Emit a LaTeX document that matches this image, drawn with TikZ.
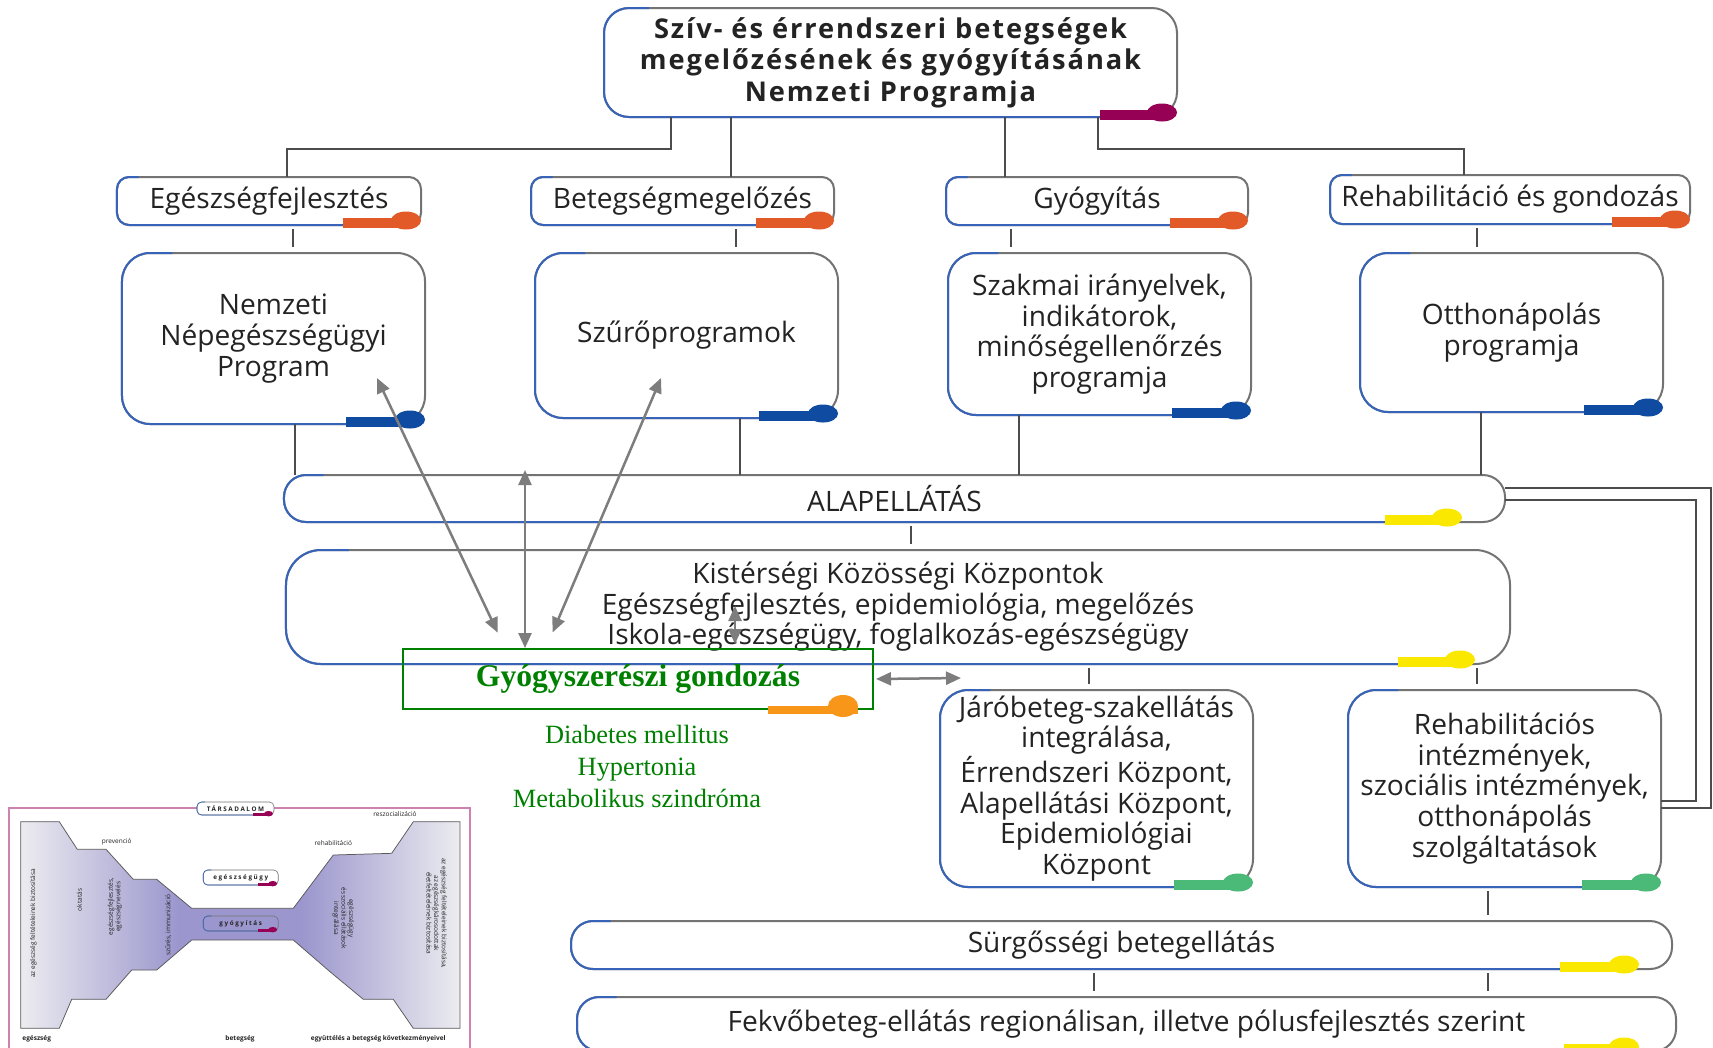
\documentclass[tikz,border=0pt]{standalone}
\usepackage{fontspec}
\setmainfont{Open Sans}
\newfontfamily\titlefont{Open Sans}
\newfontfamily\greenfont{Liberation Serif}
\usetikzlibrary{arrows.meta}

\definecolor{edgegray}{RGB}{115,115,115}
\definecolor{edgeblue}{RGB}{55,100,185}
\definecolor{textgray}{RGB}{35,35,35}
\definecolor{accorange}{RGB}{225,90,40}
\definecolor{accblue}{RGB}{15,75,160}
\definecolor{accmagenta}{RGB}{150,0,85}
\definecolor{accyellow}{RGB}{250,232,0}
\definecolor{accgreen}{RGB}{75,185,120}
\definecolor{gyorange}{RGB}{247,150,25}
\definecolor{gygreen}{RGB}{0,128,0}
\definecolor{arrowgray}{RGB}{125,125,125}
\definecolor{insetpink}{RGB}{205,130,175}
\definecolor{hourpurple}{RGB}{155,150,205}
\definecolor{hourlight}{RGB}{236,236,240}

\pgfdeclarehorizontalshading{hourglass}{100bp}{color(0bp)=(hourlight); color(25bp)=(hourlight); color(43bp)=(hourpurple); color(57bp)=(hourpurple); color(75bp)=(hourlight); color(100bp)=(hourlight)}

\newcommand{\boxedge}[6][2mm]{%
  \draw[edgeblue, line width=#1*0.2, rounded corners=#3]
    ([xshift=#3*1.8]#2.north west) -| (#2.south west) -- ([xshift=-#5]#2.south east);
  \draw[#4, line width=#1] ([xshift=-#5, yshift=#1*0.25]#2.south east) -- ([xshift=-#6-#1*1.5, yshift=#1*0.25]#2.south east);
  \fill[#4] ([xshift=-#6-#1*1.5, yshift=#1*0.45]#2.south east) ellipse [x radius=#1*1.5, y radius=#1*0.9];
}

\begin{document}
\begin{tikzpicture}[x=0.2mm, y=-0.2mm,
  pbox/.style={draw=edgegray, line width=0.4mm, rounded corners=#1, inner sep=0pt, outer sep=0pt,
    align=center, fill=white, text=textgray, font=\fontsize{16}{17.4}\selectfont},
  pbox/.default=2.4mm,
  conn/.style={draw=black!70, line width=0.35mm},
  tick/.style={conn, shorten <=0.8mm, shorten >=1.2mm},
  arr/.style={draw=arrowgray, line width=0.5mm, {Triangle[length=3mm,width=2.6mm]}-{Triangle[length=3mm,width=2.6mm]}},
  smallbox/.style={pbox=0.9mm, line width=0.12mm, font=\fontsize{3.6}{4}\selectfont\bfseries\addfontfeatures{LetterSpace=25}},
  intext/.style={inner sep=0pt, align=center, text=textgray, font=\fontsize{3.7}{4.3}\selectfont}]

\useasboundingbox (0,0) rectangle (1713,1047);
\clip (0,0) rectangle (1713,1047);
\fill[white] (0,0) rectangle (1713,1047);

\node[pbox=5mm, minimum width=114.6mm, minimum height=21.8mm,
  font=\titlefont\bfseries\fontsize{15.5}{17.9}\selectfont\addfontfeatures{LetterSpace=7}] (title) at (890.5,62.5)
  {Szív- és érrendszeri betegségek\\megelőzésének és gyógyításának\\Nemzeti Programja};

\node[pbox, minimum width=60.8mm, minimum height=9.6mm] (egfejl) at (269,201) {Egészségfejlesztés};
\node[pbox, minimum width=60.6mm, minimum height=9.6mm] (betmeg) at (682.5,201) {Betegségmegelőzés};
\node[pbox, minimum width=60.4mm, minimum height=9.6mm] (gyogy) at (1097,201) {Gyógyítás};
\node[pbox, minimum width=72mm, minimum height=9.8mm] (rehab) at (1510,199.5) {Rehabilitáció és gondozás};

\node[pbox=5.6mm, minimum width=60.6mm, minimum height=34.2mm] (nnp) at (273.5,338.5) {Nemzeti\\Népegészségügyi\\Program};
\node[pbox=5.6mm, minimum width=60.6mm, minimum height=33mm] (szuro) at (686.5,335.5) {Szűrőprogramok};
\node[pbox=5.6mm, minimum width=60.6mm, minimum height=32.4mm] (szakmai) at (1099.5,334) {Szakmai irányelvek,\\indikátorok,\\minőségellenőrzés\\programja};
\node[pbox=5.6mm, minimum width=60.6mm, minimum height=31.8mm] (otthon) at (1511.5,332.5) {Otthonápolás\\programja};

\node[pbox=4.4mm, minimum width=244.2mm, minimum height=9.4mm] (alap) at (894.5,498.5) {ALAPELLÁTÁS};
\node[pbox=7mm, minimum width=244.8mm, minimum height=22.8mm] (kkk) at (898,607)
  {Kistérségi Közösségi Központok\\Egészségfejlesztés, epidemiológia, megelőzés\\Iskola-egészségügy, foglalkozás-egészségügy};

\node[pbox=5.6mm, minimum width=62.6mm, minimum height=39.4mm] (jaro) at (1096.5,788.5)
  {Járóbeteg-szakellátás\\integrálása,\\Érrendszeri Központ,\\Alapellátási Központ,\\Epidemiológiai\\Központ};
\node[pbox=5.6mm, minimum width=62.6mm, minimum height=39.4mm] (rehint) at (1504.5,788.5)
  {Rehabilitációs\\intézmények,\\szociális intézmények,\\otthonápolás\\szolgáltatások};

\node[pbox=4.4mm, minimum width=220.2mm, minimum height=9.6mm] (surg) at (1121.5,945) {Sürgősségi betegellátás};
\node[pbox=4.4mm, minimum width=219.8mm, minimum height=10.8mm] (fekvo) at (1126.5,1024)
  {Fekvőbeteg-ellátás regionálisan, illetve pólusfejlesztés szerint};

\boxedge{title}{5mm}{accmagenta}{15.4mm}{0mm}
\boxedge{egfejl}{2.4mm}{accorange}{15.6mm}{0mm}
\boxedge{betmeg}{2.4mm}{accorange}{15.6mm}{0mm}
\boxedge{gyogy}{2.4mm}{accorange}{15.6mm}{0mm}
\boxedge{rehab}{2.4mm}{accorange}{15.6mm}{0mm}
\boxedge{nnp}{5.6mm}{accblue}{15.8mm}{0mm}
\boxedge{szuro}{5.6mm}{accblue}{15.8mm}{0mm}
\boxedge{szakmai}{5.6mm}{accblue}{15.8mm}{0mm}
\boxedge{otthon}{5.6mm}{accblue}{15.8mm}{0mm}
\boxedge{alap}{4.4mm}{accyellow}{24mm}{8.6mm}
\boxedge{kkk}{7mm}{accyellow}{22.4mm}{7mm}
\boxedge{jaro}{5.6mm}{accgreen}{15.8mm}{0mm}
\boxedge{rehint}{5.6mm}{accgreen}{15.8mm}{0mm}
\boxedge{surg}{4.4mm}{accyellow}{22.4mm}{6.6mm}
\boxedge{fekvo}{4.4mm}{accyellow}{22.4mm}{7.4mm}

\draw[conn] (title.south -| 671,0) |- (287,149) -- (egfejl.north -| 287,0);
\draw[conn] (title.south -| 731,0) -- (betmeg.north -| 731,0);
\draw[conn] (title.south -| 1005,0) -- (gyogy.north -| 1005,0);
\draw[conn] (title.south -| 1098,0) |- (1464,149) -- (rehab.north -| 1464,0);

\draw[tick] (egfejl.south -| 293,0) -- (nnp.north -| 293,0);
\draw[tick] (betmeg.south -| 736,0) -- (szuro.north -| 736,0);
\draw[tick] (gyogy.south -| 1011,0) -- (szakmai.north -| 1011,0);
\draw[tick] (rehab.south -| 1477,0) -- (otthon.north -| 1477,0);

\draw[conn] (nnp.south -| 295,0) -- (alap.north -| 295,0);
\draw[conn] (szuro.south -| 740,0) -- (alap.north -| 740,0);
\draw[conn] (szakmai.south -| 1019,0) -- (alap.north -| 1019,0);
\draw[conn] (otthon.south -| 1481,0) -- (alap.north -| 1481,0);

\draw[tick] (alap.south -| 911,0) -- (kkk.north -| 911,0);
\draw[tick] (kkk.south -| 1089,0) -- (jaro.north -| 1089,0);
\draw[tick] (kkk.south -| 1477,0) -- (rehint.north -| 1477,0);
\draw[tick] (rehint.south -| 1488,0) -- (surg.north -| 1488,0);
\draw[tick] (surg.south -| 1094,0) -- (fekvo.north -| 1094,0);
\draw[tick] (surg.south -| 1488,0) -- (fekvo.north -| 1488,0);

\draw[conn] (alap.east |- 0,488) -| (1711,808) -- (rehint.east |- 0,808);
\draw[conn] (alap.east |- 0,500) -| (1696,801) -- (rehint.east |- 0,801);

\node[draw=gygreen, line width=0.4mm, minimum width=94mm, minimum height=12mm, inner sep=0pt,
  text=gygreen, font=\greenfont\bfseries\fontsize{18}{20}\selectfont] (gyszg) at (638,679) {Gyógyszerészi gondozás};
\draw[gyorange, line width=1.6mm] ([xshift=-21.2mm]gyszg.south east) -- ([xshift=-3.2mm]gyszg.south east);
\fill[gyorange] ([xshift=-6.2mm, yshift=0.8mm]gyszg.south east) ellipse [x radius=3mm, y radius=2.2mm];
\node[align=center, text=gygreen, font=\greenfont\fontsize{15}{18.2}\selectfont] (betegsegek) at (637,766)
  {Diabetes mellitus\\Hypertonia\\Metabolikus szindróma};

\coordinate (nnptip) at (377,378);
\coordinate (szurotip) at (661,378);
\coordinate (alaptip) at (525,470);
\coordinate (kkktip) at (735,606);
\coordinate (jarotip) at (961,678);
\draw[arr, shorten <=3.4mm] (gyszg.north -| 505,0) -- (nnptip);
\draw[arr, shorten <=3.4mm] (gyszg.north -| 546,0) -- (szurotip);
\draw[arr] (gyszg.north -| 525,0) -- (alaptip);
\draw[arr, shorten <=0.8mm] (gyszg.north -| 735,0) -- (kkktip);
\draw[arr, shorten <=0.4mm] (gyszg.east) -- (jarotip);

\draw[insetpink, line width=0.3mm] (9,808) rectangle (470,1060);
\shade[shading=hourglass, draw=black!65, line width=0.15mm]
  (20.7,821.7) -- (59.3,821.7) -- (77.3,849.3) -- (106,849.3) -- (133.3,879.3) -- (156.7,879.3)
  -- (191.7,908.3) -- (293.3,908.3) -- (333.3,855) -- (391.7,853.3) -- (413.3,821.7) -- (460,821.7)
  -- (460,1028.3) -- (413.3,1028.3) -- (393.3,999.3) -- (363.3,999.3) -- (330,971.7) -- (293.3,940)
  -- (191.7,940) -- (156.7,970) -- (131.7,970) -- (106,999.3) -- (71.7,999.3) -- (59.3,1028.3)
  -- (20.7,1028.3) -- cycle;

\node[smallbox, minimum width=15.4mm, minimum height=2.6mm] (tars) at (235.5,808.5) {TÁRSADALOM};
\node[smallbox, minimum width=15mm, minimum height=3mm] (eu) at (240.7,877.5) {egészségügy};
\node[smallbox, fill=none, minimum width=15mm, minimum height=3mm] (gyi) at (240.7,923.5) {gyógyítás};
\boxedge[0.6mm]{tars}{0.9mm}{accmagenta}{4.2mm}{0.2mm}
\boxedge[0.6mm]{eu}{0.9mm}{accmagenta}{4mm}{0.2mm}
\boxedge[0.6mm]{gyi}{0.9mm}{accmagenta}{4mm}{0.2mm}

\node[intext] (prev) at (116.7,841.7) {prevenció};
\node[intext] (rehabt) at (333.3,843.3) {rehabilitáció};
\node[intext] (reszoc) at (395,814) {reszocializáció};
\node[intext, rotate=90] (feltet) at (33.3,923.3) {az egészség feltételeinek biztosítása};
\node[intext, rotate=90] (oktat) at (79.3,900) {oktatás};
\node[intext, rotate=90] (egfnev) at (115,906.7) {egészségfejlesztés,\\egészségnevelés};
\node[intext, rotate=90] (szures) at (168.3,925) {szűrés, immunizáció};
\node[intext, rotate=-90] (integr) at (343.3,918.3) {egészségügy\\és szociális ellátások\\integrálása};
\node[intext, rotate=-90] (feltet2) at (436.7,913.3) {az egészség feltételeinek biztosítása,\\az egészségkárosodottak\\életfeltételeinek biztosítása};
\node[intext, font=\fontsize{3.7}{4.3}\selectfont\bfseries] (egeszseg) at (36.7,1038.3) {egészség};
\node[intext, font=\fontsize{3.7}{4.3}\selectfont\bfseries] (betegseg) at (240,1038.3) {betegség};
\node[intext, font=\fontsize{3.7}{4.3}\selectfont\bfseries] (egyutt) at (378.3,1038.3) {együttélés a betegség következményeivel};
\end{tikzpicture}
\end{document}
